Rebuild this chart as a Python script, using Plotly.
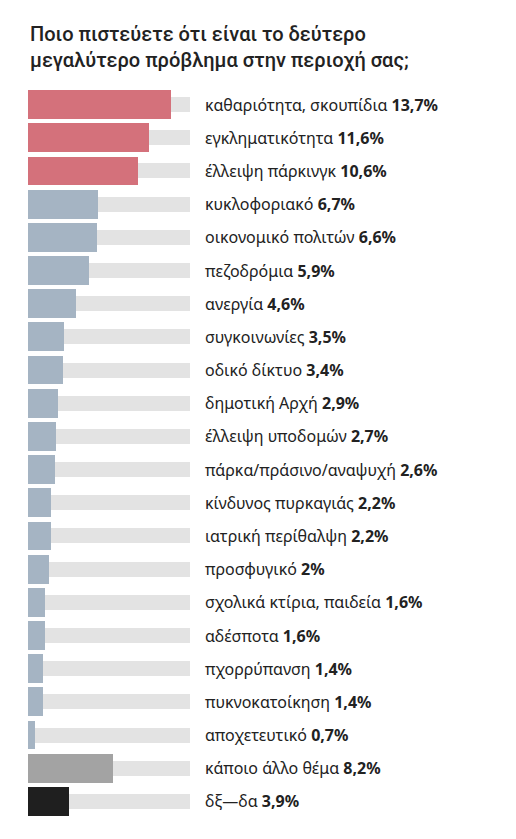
import plotly.graph_objects as go

# δεδομένα
categories = [
    "καθαριότητα, σκουπίδια", "εγκληματικότητα", "έλλειψη πάρκινγκ",
    "κυκλοφοριακό", "οικονομικό πολιτών", "πεζοδρόμια", "ανεργία",
    "συγκοινωνίες", "οδικό δίκτυο", "δημοτική Αρχή", "έλλειψη υποδομών",
    "πάρκα/πράσινο/αναψυχή", "κίνδυνος πυρκαγιάς", "ιατρική περίθαλψη",
    "προσφυγικό", "σχολικά κτίρια, παιδεία", "αδέσποτα", "πχορρύπανση",
    "πυκνοκατοίκηση", "αποχετευτικό", "κάποιο άλλο θέμα", "δξ—δα",
]
values = [13.7, 11.6, 10.6, 6.7, 6.6, 5.9, 4.6, 3.5, 3.4, 2.9, 2.7, 2.6,
          2.2, 2.2, 2.0, 1.6, 1.6, 1.4, 1.4, 0.7, 8.2, 3.9]
groups = ["top"] * 3 + ["rest"] * 17 + ["other", "dk"]
title_lines = ["Ποιο πιστεύετε ότι είναι το δεύτερο",
               "μεγαλύτερο πρόβλημα στην περιοχή σας;"]

TRACK = 15.5        # μήκος γκρι φόντου
LABEL_X = 16.8      # θέση ετικετών (σε μονάδες %)
colors = {"top": "#d4717b", "rest": "#a5b4c3", "other": "#a3a3a3", "dk": "#1f1f1f"}
FONT = "Noto Sans"

# η σελίδα έχει 8px περιθώριο στο body
W, H = 508, 831
T, B, L = 80, 21, 20
PLOT_H = H - T - B


def fmt(v):
    s = ("%.1f" % v).rstrip("0").rstrip(".")
    return s.replace(".", ",") + "%"


fig = go.Figure()

# γκρι φόντο
fig.add_trace(go.Bar(
    y=categories, x=[TRACK] * len(categories), orientation="h",
    width=0.45, marker=dict(color="#e3e3e3", line=dict(width=0)),
    hoverinfo="skip", showlegend=False,
))

# τιμές
fig.add_trace(go.Bar(
    y=categories, x=values, orientation="h", width=0.87,
    marker=dict(color=[colors[g] for g in groups], line=dict(width=0)),
    hoverinfo="skip", showlegend=False,
))

for c, v in zip(categories, values):
    fig.add_annotation(
        x=LABEL_X, y=c, xref="x", yref="y",
        text="%s <b>%s</b>" % (c, fmt(v)),
        showarrow=False, xanchor="left", yanchor="middle",
        font=dict(family=FONT, size=16, color="#222222"),
    )

# τίτλος σε δύο γραμμές
for line, py in zip(title_lines, [26, 52]):
    fig.add_annotation(
        x=0, y=1 + (T - py) / PLOT_H, xref="paper", yref="paper",
        text=line, showarrow=False, xanchor="left", yanchor="middle",
        font=dict(family="Roboto", size=20, color="#222222", weight=500),
    )

fig.update_layout(
    width=W, height=H,
    margin=dict(l=L, r=0, t=T, b=B),
    paper_bgcolor="white", plot_bgcolor="white",
    barmode="overlay", bargap=0,
    xaxis=dict(range=[0, (W - L) / 10.42], visible=False, fixedrange=True),
    yaxis=dict(categoryorder="array", categoryarray=categories,
               range=[len(categories) - 0.5, -0.5], visible=False, fixedrange=True),
)

fig.write_html("out.html")
